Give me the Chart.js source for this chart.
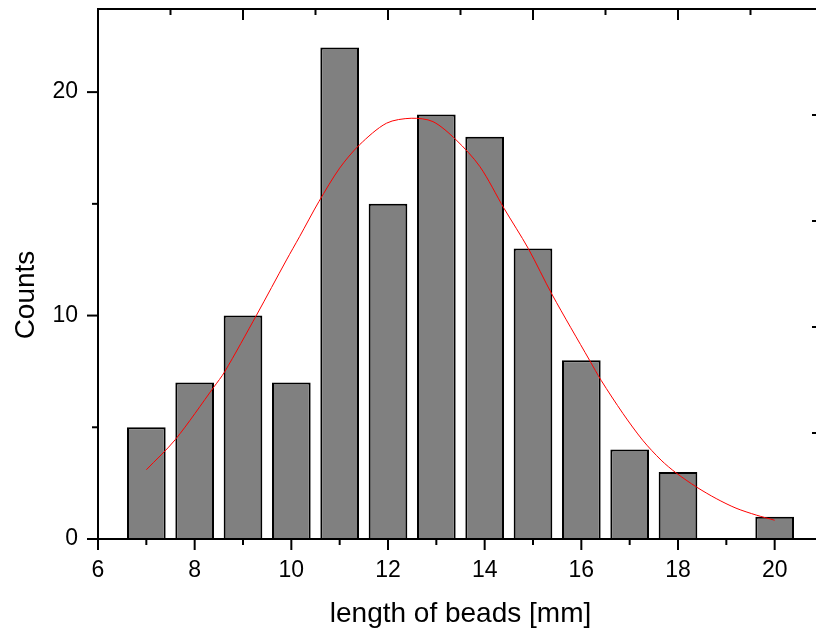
<!DOCTYPE html>
<html lang="en">
<head>
    <meta charset="UTF-8">
    <title>Length of beads histogram</title>
    <style>
        html, body {
            margin: 0;
            padding: 0;
            background: #ffffff;
            overflow: hidden;
        }

        /* wider than the window: the right frame of the plot falls just off the picture */
        #hist {
            display: block;
        }
    </style>
    <script src="https://cdn.jsdelivr.net/npm/chart.js"></script>
</head>
<body>
    <canvas id="hist" width="840" height="630"></canvas>

    <script>
        // Histogram bins (bin centres, mm) and counts
        const binCenters = [7, 8, 9, 10, 11, 12, 13, 14, 15, 16, 17, 18, 19, 20];
        const counts = [5, 7, 10, 7, 22, 15, 19, 18, 13, 8, 4, 3, 0, 1];

        // Fitted curve
        const fitX = [7.0, 7.6, 8.4, 8.62, 9.28, 9.9, 10.17, 10.57, 11.0, 11.41, 11.97, 12.48, 12.93, 13.41, 13.9,
                      14.4, 14.9, 15.4, 16.17, 16.41, 16.86, 17.27, 17.65, 17.96, 18.38, 18.79, 19.2, 19.62, 20.0];
        const fitY = [3.1, 4.45, 6.81, 7.48, 10.02, 12.49, 13.53, 15.1, 16.6, 17.64, 18.61, 18.83, 18.68, 17.86, 16.67,
                      14.8, 13.01, 10.92, 8.0, 7.1, 5.62, 4.42, 3.53, 2.96, 2.33, 1.81, 1.38, 1.07, 0.84];

        // Tick labels
        const xTickLabels = [6, 8, 10, 12, 14, 16, 18, 20];
        const yTickLabels = [0, 10, 20];

        const font = "'Liberation Sans', Arial, sans-serif";

        // Frame, inward/outward tick marks and axis titles
        const framePlugin = {
            id: 'frame',
            afterDatasetsDraw(chart) {
                const { ctx, chartArea: a, scales: { x, y } } = chart;
                ctx.save();
                ctx.strokeStyle = '#000';
                ctx.lineWidth = 2;
                ctx.strokeRect(a.left, a.top, a.right - a.left, a.bottom - a.top);

                function tick(x1, y1, x2, y2) {
                    ctx.beginPath();
                    ctx.moveTo(x1, y1);
                    ctx.lineTo(x2, y2);
                    ctx.stroke();
                }

                // bottom axis: outward, major every 2, minor every 1
                for (let v = x.min; v <= x.max; v += 1) {
                    const px = x.getPixelForValue(v);
                    tick(px, a.bottom, px, a.bottom + (v % 2 === 0 ? 11 : 6));
                }
                // top axis: inward, major every 3, minor every 1.5
                for (let k = 0; k <= 10; k++) {
                    const px = x.getPixelForValue(x.min + k * 1.5);
                    tick(px, a.top, px, a.top + (k % 2 === 0 ? 11 : 6));
                }
                // left axis: outward, major every 10, minor every 5
                for (let v = 0; v <= y.max; v += 5) {
                    const py = y.getPixelForValue(v);
                    tick(a.left, py, a.left - (v % 10 === 0 ? 11 : 6), py);
                }
                // right axis: inward, five equal steps
                for (let k = 1; k < 5; k++) {
                    const py = y.getPixelForValue(y.max * k / 5);
                    tick(a.right, py, a.right - 11, py);
                }

                // axis titles
                ctx.fillStyle = '#000';
                ctx.font = '28px ' + font;
                ctx.textAlign = 'center';
                ctx.textBaseline = 'alphabetic';
                ctx.fillText('length of beads [mm]', (a.left + a.right) / 2, 622);

                ctx.translate(34, 295);
                ctx.rotate(-Math.PI / 2);
                ctx.fillText('Counts', 0, 0);
                ctx.restore();
            }
        };

        // keep the plot box where it is: no extra room for half tick labels
        function noLabelPadding(s) {
            s.paddingTop = 0;
            s.paddingBottom = 0;
            s.paddingLeft = 0;
            s.paddingRight = 0;
        }

        const ctx = document.getElementById('hist').getContext('2d');
        new Chart(ctx, {
            data: {
                datasets: [
                    {
                        type: 'line',
                        label: 'Fit',
                        data: fitX.map((v, i) => ({ x: v, y: fitY[i] })),
                        borderColor: '#ff0000',
                        borderWidth: 1,
                        pointRadius: 0,
                        tension: 0.3,
                        fill: false,
                        order: 0
                    },
                    {
                        type: 'bar',
                        label: 'Counts',
                        data: binCenters.map((v, i) => ({ x: v, y: counts[i] })),
                        backgroundColor: '#808080',
                        borderColor: '#000000',
                        borderWidth: 2,
                        barPercentage: 0.8,
                        categoryPercentage: 1.0,
                        order: 1
                    }
                ]
            },
            options: {
                responsive: false,
                animation: false,
                layout: {
                    padding: { top: 9, right: 17, left: 0, bottom: 0 }
                },
                plugins: {
                    legend: { display: false },
                    tooltip: { enabled: false }
                },
                scales: {
                    x: {
                        type: 'linear',
                        offset: false,
                        min: 6,
                        max: 21,
                        grid: { display: false, drawTicks: false },
                        border: { display: false },
                        ticks: {
                            stepSize: 1,
                            autoSkip: false,
                            maxRotation: 0,
                            padding: 18,
                            color: '#000',
                            font: { family: font, size: 23 },
                            callback: v => xTickLabels.includes(v) ? String(v) : ''
                        },
                        afterFit: s => { s.height = 91; noLabelPadding(s); }
                    },
                    y: {
                        min: 0,
                        max: 23.72,
                        grid: { display: false, drawTicks: false },
                        border: { display: false },
                        ticks: {
                            stepSize: 10,
                            padding: 20,
                            color: '#000',
                            font: { family: font, size: 23 },
                            callback: v => yTickLabels.includes(v) ? String(v) : ''
                        },
                        afterFit: s => { s.width = 98; noLabelPadding(s); }
                    }
                }
            },
            plugins: [framePlugin]
        });
    </script>
</body>
</html>
